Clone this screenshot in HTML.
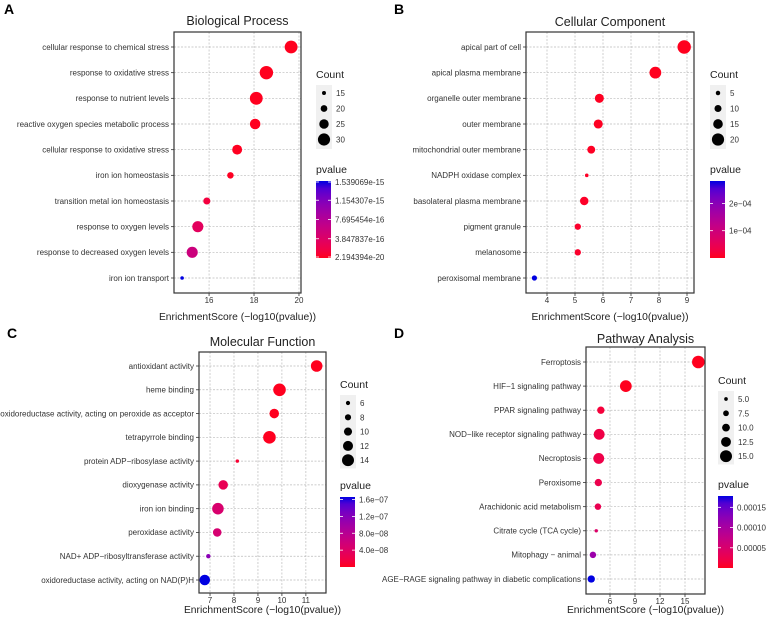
<!DOCTYPE html>
<html><head><meta charset="utf-8">
<style>
body{margin:0;background:#fff;}
svg{display:block;font-family:"Liberation Sans",sans-serif;}
</style></head>
<body>
<svg id="fig" width="767" height="618"></svg>
<script>
// Panel A data
const aTerms=["cellular response to chemical stress","response to oxidative stress","response to nutrient levels","reactive oxygen species metabolic process","cellular response to oxidative stress","iron ion homeostasis","transition metal ion homeostasis","response to oxygen levels","response to decreased oxygen levels","iron ion transport"];
const aScore=[19.65,18.55,18.1,18.05,17.25,16.95,15.9,15.5,15.25,14.8];
const aCount=[30,31,30,26,25,19,20,27,27,14];
const aPval=[2.2e-20,2.8e-19,7.9e-19,8.9e-19,5.6e-18,1.1e-17,1.26e-16,3.2e-16,5.6e-16,1.539e-15];
const aXTicks=[16,18,20];
const aCountTicks=[15,20,25,30];
const aPTicks=["1.539069e-15","1.154307e-15","7.695454e-16","3.847837e-16","2.194394e-20"];
// Panel B data
const bTerms=["apical part of cell","apical plasma membrane","organelle outer membrane","outer membrane","mitochondrial outer membrane","NADPH oxidase complex","basolateral plasma membrane","pigment granule","melanosome","peroxisomal membrane"];
const bScore=[8.9,7.87,5.87,5.83,5.58,5.42,5.33,5.1,5.1,3.55];
const bCount=[21,18,13,13,11,3,12,8,8,6];
const bPval=[1.3e-9,1.3e-8,1.35e-6,1.5e-6,2.6e-6,3.8e-6,4.7e-6,7.9e-6,7.9e-6,2.82e-4];
const bXTicks=[4,5,6,7,8,9];
const bCountTicks=[5,10,15,20];
const bPTickVals=[2e-4,1e-4];
const bPTicks=["2e\u221204","1e\u221204"];
// Panel C data
const cTerms=["antioxidant activity","heme binding","oxidoreductase activity, acting on peroxide as acceptor","tetrapyrrole binding","protein ADP\u2212ribosylase activity","dioxygenase activity","iron ion binding","peroxidase activity","NAD+ ADP\u2212ribosyltransferase activity","oxidoreductase activity, acting on NAD(P)H"];
const cScore=[11.45,9.9,9.68,9.48,8.14,7.55,7.33,7.3,6.93,6.78];
const cCount=[13,14,11,14,5,11,13,10,6,12];
const cPval=[3.5e-12,1.3e-10,2.1e-10,3.3e-10,7.2e-9,2.8e-8,4.7e-8,5.0e-8,1.17e-7,1.66e-7];
const cXTicks=[7,8,9,10,11];
const cCountTicks=[6,8,10,12,14];
const cPTickVals=[1.6e-7,1.2e-7,8e-8,4e-8];
const cPTicks=["1.6e\u221207","1.2e\u221207","8.0e\u221208","4.0e\u221208"];
// Panel D data
const dTerms=["Ferroptosis","HIF\u22121 signaling pathway","PPAR signaling pathway","NOD\u2212like receptor signaling pathway","Necroptosis","Peroxisome","Arachidonic acid metabolism","Citrate cycle (TCA cycle)","Mitophagy \u2212 animal","AGE\u2212RAGE signaling pathway in diabetic complications"];
const dScore=[16.6,7.9,4.9,4.7,4.65,4.6,4.55,4.35,3.95,3.75];
const dCount=[15,14,9,13,13,9,8,4.5,8,9];
const dPval=[2.5e-17,1.26e-8,1.26e-5,2.0e-5,2.2e-5,2.5e-5,2.8e-5,4.5e-5,1.12e-4,1.78e-4];
const dXTicks=[6,9,12,15];
const dCountTicks=[5.0,7.5,10.0,12.5,15.0];
const dCountLabels=["5.0","7.5","10.0","12.5","15.0"];
const dPTickVals=[1.5e-4,1e-4,5e-5];
const dPTicks=["0.00015","0.00010","0.00005"];

const NS="http://www.w3.org/2000/svg";
const svg=document.getElementById('fig');
function mk(tag,attrs,parent,text){const e=document.createElementNS(NS,tag);for(const k in attrs)e.setAttribute(k,attrs[k]);if(text!==undefined)e.textContent=text;(parent||svg).appendChild(e);return e;}
function col(p,pmin,pmax){let t=(p-pmin)/(pmax-pmin);t=Math.max(0,Math.min(1,t));
 const r=Math.round(255*Math.pow(1-t,0.5));
 const b=Math.round(30*(1-t)+225*Math.pow(t,0.75));
 return `rgb(${r},0,${Math.min(255,b)})`;}

function panel(cfg){
 const g=mk('g',{},svg);
 
 
 const L=mk('text',{x:cfg.letter[0],y:cfg.letter[1],'font-size':14,'font-weight':'bold',fill:'#000'},g,cfg.letterText);
 
 const {x0,x1,y0,y1,xmin,xmax,rowTop,rowBot}=cfg;
 const sx=v=>x0+(v-xmin)/(xmax-xmin)*(x1-x0);
 const n=cfg.terms.length;
 const sy=i=>rowTop+i*(rowBot-rowTop)/(n-1);
 const T=mk('text',{x:(x0+x1)/2,y:cfg.titleY,'font-size':12.5,'text-anchor':'middle',fill:'#222'},g,cfg.title);
 
 mk('rect',{x:x0,y:y0,width:x1-x0,height:y1-y0,fill:'#fff'},g);
 const grid=mk('g',{stroke:'#bbb','stroke-width':0.7,'stroke-dasharray':'2,1.5'},g);
 
 cfg.xticks.forEach(v=>{mk('line',{x1:sx(v),x2:sx(v),y1:y0,y2:y1},grid);});
 cfg.terms.forEach((t,i)=>{mk('line',{x1:x0,x2:x1,y1:sy(i),y2:sy(i)},grid);});
 cfg.terms.forEach((t,i)=>{
  const e=mk('text',{x:x0-5,y:sy(i)+2.8,'font-size':8,'text-anchor':'end',fill:'#333'},g,t);
  
  mk('line',{x1:x0-3,x2:x0,y1:sy(i),y2:sy(i),stroke:'#333','stroke-width':0.8},g);
 });
 cfg.xticks.forEach(v=>{
  const e=mk('text',{x:sx(v),y:y1+10,'font-size':8,'text-anchor':'middle',fill:'#333'},g,String(v));
  
  mk('line',{x1:sx(v),x2:sx(v),y1:y1,y2:y1+3,stroke:'#333','stroke-width':0.8},g);
 });
 const XT=mk('text',{x:(x0+x1)/2,y:cfg.xTitleY,'font-size':10.3,'text-anchor':'middle',fill:'#222'},g,'EnrichmentScore (\u2212log10(pvalue))');
 
 const [cmin,cmax]=cfg.cdom;
 const rad=c=>cfg.rr[0]+(Math.max(cmin,c)-cmin)/(cmax-cmin)*(cfg.rr[1]-cfg.rr[0]);
 const pmin=Math.min(...cfg.pval), pmax=Math.max(...cfg.pval);
 cfg.terms.forEach((t,i)=>{
  const c=mk('circle',{cx:sx(cfg.score[i]),cy:sy(i),r:rad(cfg.count[i]),fill:col(cfg.pval[i],pmin,pmax)},g);
  
 });
 mk('rect',{x:x0,y:y0,width:x1-x0,height:y1-y0,fill:'none',stroke:'#333','stroke-width':1.2},g);
 const lg=cfg.lg;
 const CT=mk('text',{x:lg.x,y:lg.cy,'font-size':10.5,fill:'#222'},g,'Count');
 
 const ni=cfg.cticks.length, step=cfg.cstep;
 mk('rect',{x:lg.x,y:lg.cy+7,width:16,height:ni*step+2,fill:'#f0f0f0'},g);
 cfg.cticks.forEach((v,k)=>{
  const yy=lg.cy+15+k*step;
  const d=mk('circle',{cx:lg.x+8,cy:yy,r:rad(v)*0.95,fill:'#000'},g);
  
  mk('text',{x:lg.x+20,y:yy+3,'font-size':8,fill:'#333'},g,cfg.clabels?cfg.clabels[k]:String(v));
 });
 const PT=mk('text',{x:lg.x,y:lg.py,'font-size':10.5,fill:'#222'},g,'pvalue');
 
 const gid='grad'+cfg.letterText;
 const defs=mk('defs',{},g);
 const gr=mk('linearGradient',{id:gid,x1:0,y1:1,x2:0,y2:0},defs);
 for(let k=0;k<=10;k++){mk('stop',{offset:k/10,'stop-color':col(pmin+(pmax-pmin)*k/10,pmin,pmax)},gr);}
 const by0=lg.py+8, by1=by0+cfg.barH;
 const cb=mk('rect',{x:lg.x,y:by0,width:15,height:cfg.barH,fill:`url(#${gid})`},g);
 
 cfg.pticks.forEach((lab,k)=>{
  let yy;
  if(cfg.ptickVals) yy=by1-(cfg.ptickVals[k]-pmin)/(pmax-pmin)*cfg.barH;
  else yy=by0+k*cfg.barH/(cfg.pticks.length-1)+ (k==0?1:0) - (k==cfg.pticks.length-1?1:0);
  mk('line',{x1:lg.x,x2:lg.x+3,y1:yy,y2:yy,stroke:'#fff','stroke-width':0.8},g);
  mk('line',{x1:lg.x+12,x2:lg.x+15,y1:yy,y2:yy,stroke:'#fff','stroke-width':0.8},g);
  mk('text',{x:lg.x+19,y:yy+3,'font-size':8,fill:'#333'},g,lab);
 });
}

panel({name:'panel-a-biological-process',letter:[4,14],letterText:'A',title:'Biological Process',titleY:25,
 x0:174,x1:301,y0:32,y1:293,xmin:14.44,xmax:20.09,rowTop:47,rowBot:278,xticks:aXTicks,xTitleY:320,
 terms:aTerms,score:aScore,count:aCount,pval:aPval,cdom:[14,31],rr:[1.8,6.7],
 lg:{x:316,cy:78,py:173},cticks:aCountTicks,cstep:15.5,barH:77,pticks:aPTicks});
panel({name:'panel-b-cellular-component',letter:[394,14],letterText:'B',title:'Cellular Component',titleY:26,
 x0:526,x1:694,y0:32,y1:293,xmin:3.25,xmax:9.25,rowTop:47,rowBot:278,xticks:bXTicks,xTitleY:320,
 terms:bTerms,score:bScore,count:bCount,pval:bPval,cdom:[3,21],rr:[1.8,6.7],
 lg:{x:710,cy:78,py:173},cticks:bCountTicks,cstep:15.5,barH:77,pticks:bPTicks,ptickVals:bPTickVals});
panel({name:'panel-c-molecular-function',letter:[7,338],letterText:'C',title:'Molecular Function',titleY:346,
 x0:199,x1:326,y0:352,y1:593,xmin:6.54,xmax:11.84,rowTop:366,rowBot:580,xticks:cXTicks,xTitleY:613,
 terms:cTerms,score:cScore,count:cCount,pval:cPval,cdom:[5,14],rr:[1.7,6.3],
 lg:{x:340,cy:388,py:489},cticks:cCountTicks,cstep:14.3,barH:70,pticks:cPTicks,ptickVals:cPTickVals});
panel({name:'panel-d-pathway-analysis',letter:[394,338],letterText:'D',title:'Pathway Analysis',titleY:343,
 x0:586,x1:705,y0:347,y1:594,xmin:3.12,xmax:17.4,rowTop:362,rowBot:579,xticks:dXTicks,xTitleY:613,
 terms:dTerms,score:dScore,count:dCount,pval:dPval,cdom:[4.5,15],rr:[1.7,6.3],
 lg:{x:718,cy:384,py:488},cticks:dCountTicks,clabels:dCountLabels,cstep:14.3,barH:72,pticks:dPTicks,ptickVals:dPTickVals});
</script>
</body></html>
